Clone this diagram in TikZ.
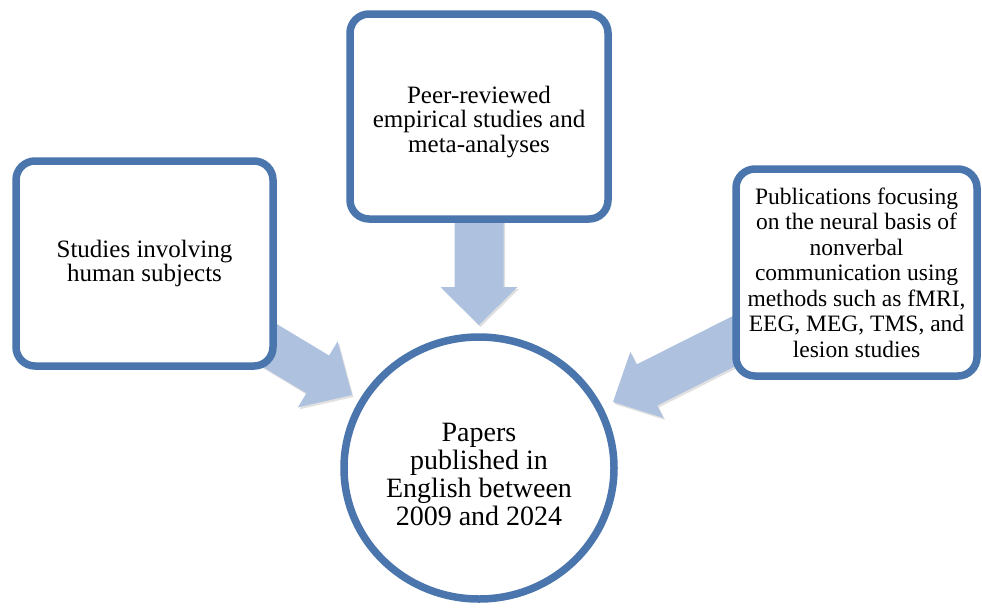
\documentclass[tikz,border=0pt]{standalone}
\usepackage{fontspec}
\setmainfont{Liberation Serif}
\usetikzlibrary{calc,shadows,shapes.geometric}
\definecolor{bordblue}{HTML}{4A76AD}
\definecolor{arrblue}{HTML}{AEC1DF}
\tikzset{
  boxstyle/.style={draw=bordblue, line width=7.5pt, fill=white, rounded corners=19pt,
    align=center, inner sep=0pt, font=\fontsize{25}{24.7}\selectfont,
    drop shadow={shadow xshift=1pt, shadow yshift=-3pt, opacity=0.25, fill=black!60}},
  circstyle/.style={draw=bordblue, line width=7.5pt, fill=white, ellipse, align=center,
    inner sep=0pt, font=\fontsize{28}{28}\selectfont,
    drop shadow={shadow xshift=1pt, shadow yshift=-3pt, opacity=0.25, fill=black!60}},
  arrowfill/.style={fill=arrblue,
    drop shadow={shadow xshift=1.5pt, shadow yshift=-2pt, opacity=0.2, fill=black!60}}
}
% #1 start, #2 tip, #3 head length, #4 head half width, #5 shaft half width
\newcommand{\blockarrow}[5]{%
  \coordinate (ba-h) at ($(#2)!#3!(#1)$);
  \fill[arrowfill] ($(#1)!#5!90:(#2)$) -- ($(ba-h)!#5!90:(#2)$) -- ($(ba-h)!#4!90:(#2)$)
    -- (#2) -- ($(ba-h)!#4!-90:(#2)$) -- ($(ba-h)!#5!-90:(#2)$) -- ($(#1)!#5!-90:(#2)$) -- cycle;
}
\begin{document}
\begin{tikzpicture}[x=1pt,y=-1pt]
\useasboundingbox (0,0) rectangle (982,608);
% arrow anchor coordinates
\coordinate (ts) at (479,200);
\coordinate (tt) at (479,325);
\coordinate (ls) at (181,292);
\coordinate (lt) at (352,395);
\coordinate (rs) at (792,312);
\coordinate (rt) at (613,402);
\blockarrow{ts}{tt}{38pt}{38.5pt}{24.5pt}
\blockarrow{ls}{lt}{40pt}{38.5pt}{22pt}
\blockarrow{rs}{rt}{38pt}{37pt}{23pt}
% boxes
\node[boxstyle, minimum width=257pt, minimum height=205pt] (left) at (144.5,263.5)
  {Studies involving\\human subjects};
\node[boxstyle, minimum width=258pt, minimum height=205pt] (top) at (479,116.5)
  {\rule{0pt}{28pt}Peer-reviewed\\empirical studies and\\meta-analyses};
\node[boxstyle, minimum width=241pt, minimum height=207pt, font=\fontsize{23.5}{25.5}\selectfont] (right) at (856.5,272.5)
  {Publications focusing\\on the neural basis of\\nonverbal\\communication using\\methods such as fMRI,\\EEG, MEG, TMS, and\\lesion studies};
\node[circstyle, minimum width=270pt, minimum height=262pt] (center) at (479,468)
  {\rule{0pt}{31pt}Papers\\published in\\English between\\2009 and 2024};
\end{tikzpicture}
\end{document}
